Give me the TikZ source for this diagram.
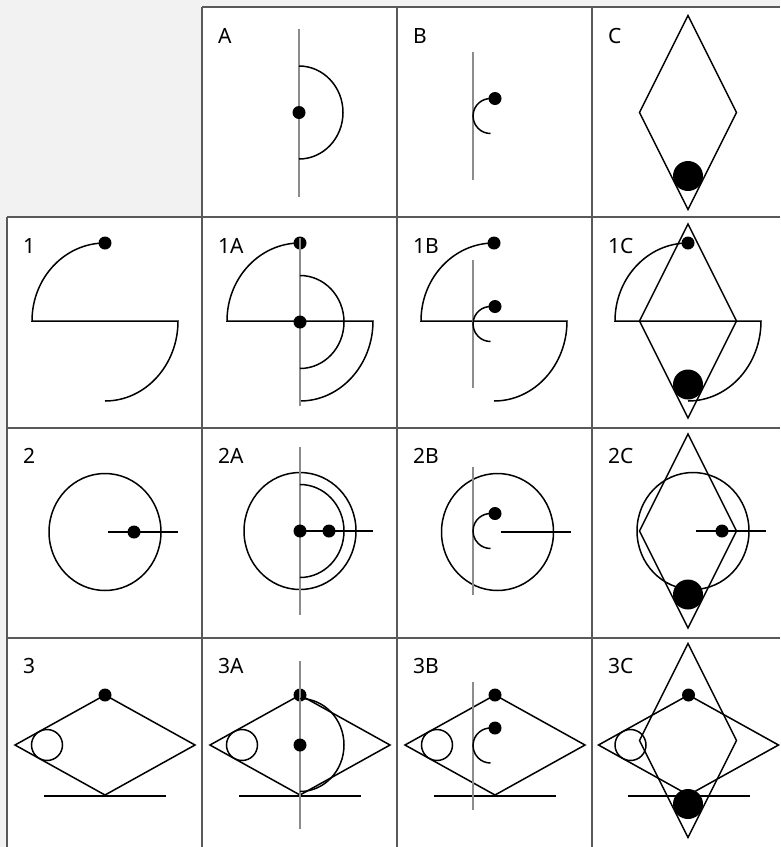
\documentclass[tikz,border=0pt]{standalone}
\usepackage{fontspec}
\setmainfont{Noto Sans}
\tikzset{
grid line/.style={draw=black!65, line width=1.4pt},
curve/.style={line width=1.5pt},
axis/.style={draw=black!45, line width=1.4pt},
cell label/.style={anchor=base west, inner sep=0pt, text=black,
  font=\fontsize{21}{24}\selectfont},
figA/.pic={
  \draw[axis] (0,84) -- (0,-84);
  \draw[curve] (0,46.5) arc[start angle=90, end angle=-90, x radius=44pt, y radius=46.5pt];
  \fill (0,0) circle[radius=6.5pt];
},
figB/.pic={
  \draw[axis] (-17.5,64) -- (-17.5,-64);
  \draw[curve] (75:17.5) arc[start angle=75, end angle=270, radius=17.5pt];
  \fill (4.5,17.5) circle[radius=6.5pt];
},
figC/.pic={
  \draw[curve] (0,97) -- (48.5,0) -- (0,-97) -- (-48.5,0) -- cycle;
  \fill (0,-63.5) circle[radius=15pt];
},
fig1/.pic={
  \draw[curve] (0,78) arc[start angle=90, end angle=180, x radius=73pt, y radius=78pt]
    -- (73,0) arc[start angle=0, end angle=-90, x radius=73pt, y radius=80pt];
  \fill (0,78) circle[radius=6.5pt];
},
fig2/.pic={
  \draw[curve] (0,0) circle[x radius=56pt, y radius=58.5pt];
  \draw[curve] (3,0) -- (73,0);
},
fig2dot/.pic={
  \fill (29,0) circle[radius=6.5pt];
},
fig3/.pic={
  \draw[curve] (-90,0) -- (0,50) -- (90,0) -- (0,-50) -- cycle;
  \draw[curve] (-58,0) circle[radius=15.5pt];
  \draw[curve] (-61,-51) -- (61,-51);
  \fill (0,50) circle[radius=6.5pt];
},
}
\begin{document}
\begin{tikzpicture}[x=1pt, y=1pt]
\useasboundingbox (0,0) rectangle (780,-847);
\fill[black!5] (0,0) rectangle (780,-847);
\fill[white] (202,-7) rectangle (780,-217);
\fill[white] (7,-217) rectangle (780,-847);

\draw[grid line] (202,-7) -- (780,-7);
\draw[grid line] (7,-217) -- (780,-217);
\draw[grid line] (7,-428) -- (780,-428);
\draw[grid line] (7,-638) -- (780,-638);
\draw[grid line] (7,-217) -- (7,-847);
\draw[grid line] (202,-7) -- (202,-847);
\draw[grid line] (397,-7) -- (397,-847);
\draw[grid line] (592,-7) -- (592,-847);

\node[cell label] (lA) at (218,-43) {A};
\node[cell label] (lB) at (413,-43) {B};
\node[cell label] (lC) at (608,-43) {C};
\node[cell label] (l1) at (23,-253) {1};
\node[cell label] (l1A) at (218,-253) {1A};
\node[cell label] (l1B) at (413,-253) {1B};
\node[cell label] (l1C) at (608,-253) {1C};
\node[cell label] (l2) at (23,-463) {2};
\node[cell label] (l2A) at (218,-463) {2A};
\node[cell label] (l2B) at (413,-463) {2B};
\node[cell label] (l2C) at (608,-463) {2C};
\node[cell label] (l3) at (23,-673) {3};
\node[cell label] (l3A) at (218,-673) {3A};
\node[cell label] (l3B) at (413,-673) {3B};
\node[cell label] (l3C) at (608,-673) {3C};

\coordinate (cA) at (299,-112.5);
\coordinate (cB) at (490.5,-116);
\coordinate (cC) at (688,-112.5);
\pic at (cA) {figA};
\pic at (cB) {figB};
\pic at (cC) {figC};

\coordinate (c1) at (105,-321);
\coordinate (c1A) at (300,-321);
\coordinate (c1B) at (494,-321);
\coordinate (c1C) at (688,-321);
\pic at (c1) {fig1};
\pic at (c1A) {fig1};
\pic at (300,-322) {figA};
\pic at (c1B) {fig1};
\pic at (490.5,-324) {figB};
\pic at (c1C) {fig1};
\pic at (c1C) {figC};

\coordinate (c2) at (105,-532);
\coordinate (c2A) at (300,-531);
\coordinate (c2B) at (497.5,-532);
\coordinate (c2C) at (693,-531);
\pic at (c2) {fig2};
\pic at (c2) {fig2dot};
\pic at (c2A) {fig2};
\pic at (c2A) {fig2dot};
\pic at (c2A) {figA};
\pic at (c2B) {fig2};
\pic at (490.5,-531) {figB};
\pic at (c2C) {fig2};
\pic at (c2C) {fig2dot};
\pic at (688,-531) {figC};

\coordinate (c3) at (105,-745);
\coordinate (c3A) at (300,-745);
\coordinate (c3B) at (495,-745);
\coordinate (c3C) at (688.5,-745);
\pic at (c3) {fig3};
\pic at (c3A) {fig3};
\pic at (c3A) {figA};
\pic at (c3B) {fig3};
\pic at (490.5,-745.5) {figB};
\pic at (c3C) {fig3};
\pic at (688,-740.5) {figC};
\end{tikzpicture}
\end{document}
